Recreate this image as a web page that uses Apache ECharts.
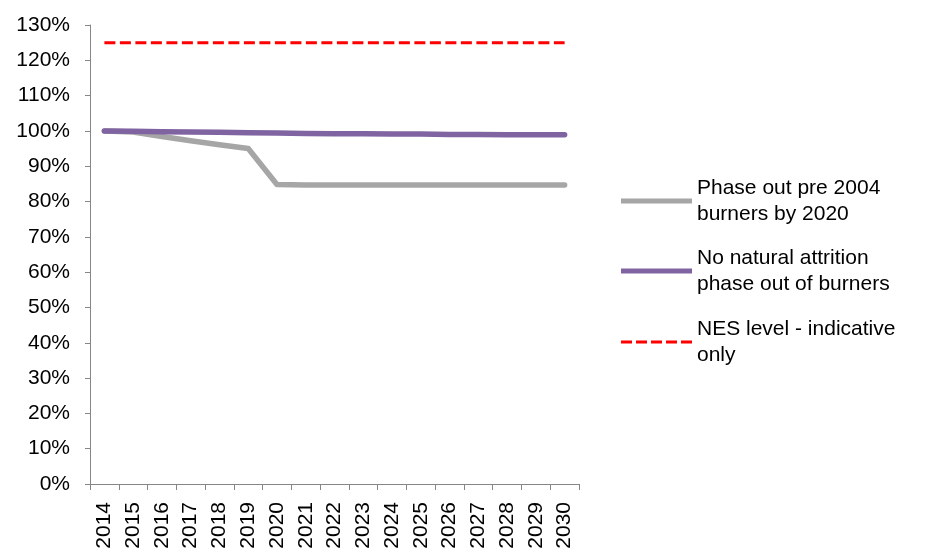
<!DOCTYPE html>
<html>
<head>
<meta charset="utf-8">
<script src="https://cdn.jsdelivr.net/npm/echarts@6/dist/echarts.min.js"></script>
<style>
  html, body { margin: 0; padding: 0; background: #fff; }
  #chart { width: 926px; height: 552px; }
</style>
</head>
<body>
<div id="chart"></div>
<script>
// Years on the category axis
const years = ['2014','2015','2016','2017','2018','2019','2020','2021','2022',
               '2023','2024','2025','2026','2027','2028','2029','2030'];

// Share of burners remaining (%), per scenario
const phaseOutPre2004 = [100, 99.7, 98.4, 97.2, 96.1, 95.0, 84.8, 84.7, 84.7,
                         84.7, 84.7, 84.7, 84.7, 84.7, 84.7, 84.7, 84.7];
const noNaturalAttrition = [100, 99.9, 99.8, 99.7, 99.6, 99.5, 99.4, 99.3, 99.2,
                            99.2, 99.1, 99.1, 99.0, 99.0, 98.9, 98.9, 98.9];
const nesLevel = [125, 125, 125, 125, 125, 125, 125, 125, 125,
                  125, 125, 125, 125, 125, 125, 125, 125];

const seriesNames = [
  'Phase out pre 2004\nburners by 2020',
  'No natural attrition\nphase out of burners',
  'NES level - indicative\nonly'
];

const FONT = '"Liberation Sans", Arial, sans-serif';
const AXIS_GREY = '#868686';
const LINE_H = 25.5;

// Legend swatches: a solid bar, or five dashes for the dashed series
const SOLID_ICON = 'path://M0,0h71v5h-71z';
const DASH_ICON = 'path://M0,0h11v3h-11z M15,0h11v3h-11z M30,0h11v3h-11z M45,0h11v3h-11z M60,0h11v3h-11z';

function legendFor(name, firstLineY, icon, h) {
  return {
    data: [{ name: name, icon: icon }],
    left: 621,
    top: firstLineY - LINE_H * 1.5,
    padding: 0,
    itemWidth: 71,
    itemHeight: h,
    symbolKeepAspect: false,
    selectedMode: false,
    textStyle: {
      fontFamily: FONT,
      fontSize: 21,
      color: '#000',
      lineHeight: LINE_H,
      padding: [LINE_H, 0, 0, 0]
    }
  };
}

const chart = echarts.init(document.getElementById('chart'), null, { renderer: 'canvas' });

chart.setOption({
  animation: false,
  backgroundColor: '#ffffff',
  grid: { left: 90, right: 347, top: 25, bottom: 68, containLabel: false },
  legend: [
    legendFor(seriesNames[0], 201, SOLID_ICON, 5),
    legendFor(seriesNames[1], 271, SOLID_ICON, 5),
    legendFor(seriesNames[2], 342, DASH_ICON, 3)
  ],
  xAxis: {
    type: 'category',
    data: years,
    boundaryGap: true,
    axisLine: { lineStyle: { color: AXIS_GREY, width: 1 } },
    axisTick: { show: true, length: 6, inside: false, alignWithLabel: false,
                lineStyle: { color: AXIS_GREY } },
    axisLabel: {
      rotate: 90,
      margin: 18,
      interval: 0,
      color: '#000',
      fontFamily: FONT,
      fontSize: 21
    },
    splitLine: { show: false }
  },
  yAxis: {
    type: 'value',
    min: 0,
    max: 130,
    interval: 10,
    axisLine: { show: true, lineStyle: { color: AXIS_GREY, width: 1 } },
    axisTick: { show: true, length: 5, lineStyle: { color: AXIS_GREY } },
    axisLabel: {
      formatter: '{value}%',
      margin: 20,
      color: '#000',
      fontFamily: FONT,
      fontSize: 21
    },
    splitLine: { show: false }
  },
  series: [
    {
      name: seriesNames[0],
      type: 'line',
      data: phaseOutPre2004,
      symbol: 'none',
      lineStyle: { color: '#A6A6A6', width: 5.5, cap: 'round', join: 'round' },
      itemStyle: { color: '#A6A6A6' }
    },
    {
      name: seriesNames[1],
      type: 'line',
      data: noNaturalAttrition,
      symbol: 'none',
      lineStyle: { color: '#8064A2', width: 5.5, cap: 'round', join: 'round' },
      itemStyle: { color: '#8064A2' }
    },
    {
      name: seriesNames[2],
      type: 'line',
      data: nesLevel,
      symbol: 'none',
      lineStyle: { color: '#FF0000', width: 3, type: [11, 4.5] },
      itemStyle: { color: '#FF0000' }
    }
  ]
});
</script>
</body>
</html>
